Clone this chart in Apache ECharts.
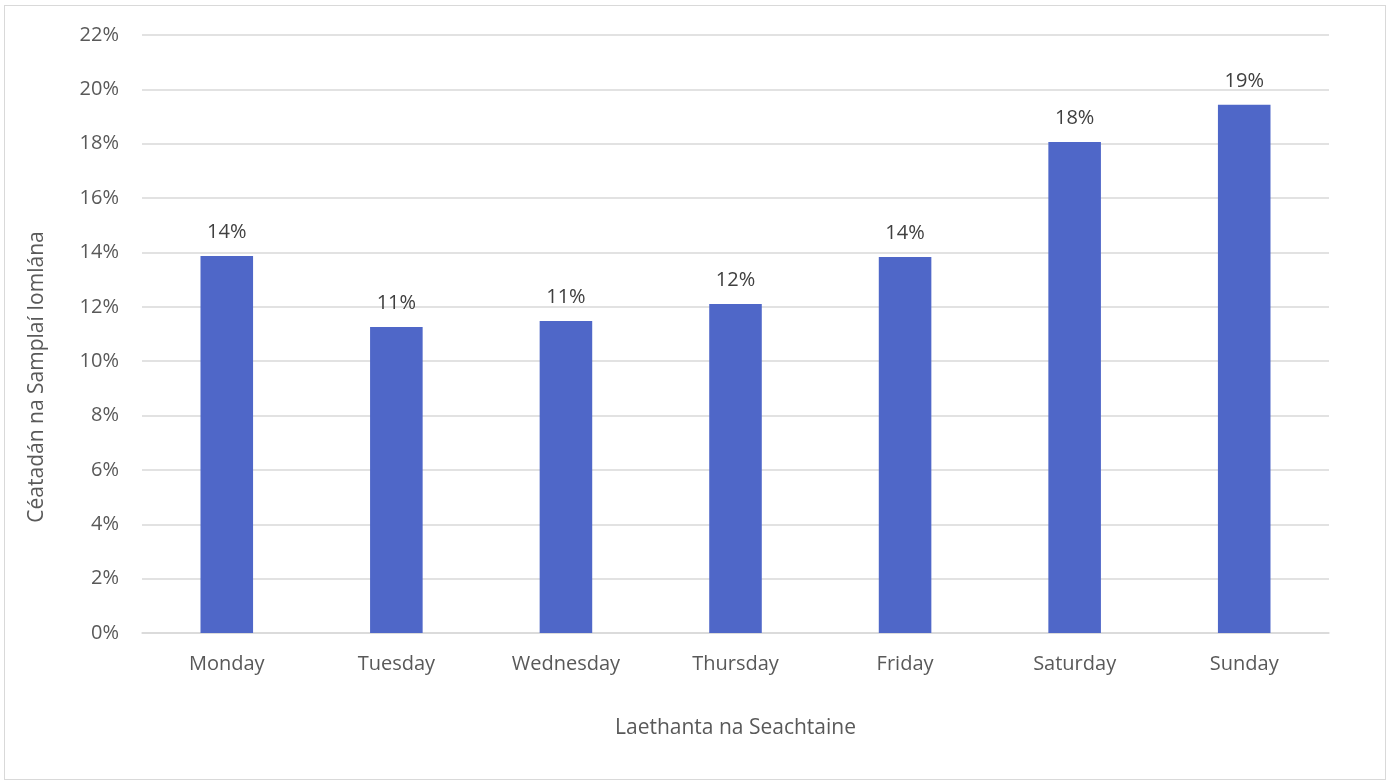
<!DOCTYPE html>
<html><head><meta charset="utf-8">
<script src="https://cdn.jsdelivr.net/npm/echarts@6/dist/echarts.min.js"></script>
<style>
html,body{margin:0;padding:0;background:#fff;}
#frame{position:absolute;left:4px;top:5px;width:1382px;height:775px;border:1px solid #d9d9d9;box-sizing:border-box;}
#c{position:absolute;left:0;top:0;width:1392px;height:783px;}
</style></head>
<body>
<div id="frame"></div>
<div id="c"></div>
<script>
const categories = ["Monday","Tuesday","Wednesday","Thursday","Friday","Saturday","Sunday"];
const values = [13.87, 11.26, 11.48, 12.10, 13.83, 18.06, 19.43];
const yTicks = [0,2,4,6,8,10,12,14,16,18,20,22];
const xAxisTitle = "Laethanta na Seachtaine";
const yAxisTitle = "Céatadán na Samplaí Iomlána";

const chart = echarts.init(document.getElementById('c'), null, {renderer:'canvas'});
const font = "'Open Sans', 'Noto Sans', sans-serif";
const fs = 20;
chart.setOption({
  animation:false,
  grid:{left:142, right:63, top:35, bottom:150, containLabel:false},
  xAxis:{
    type:'category', data:categories,
    name:xAxisTitle, nameLocation:'middle', nameGap:85,
    nameTextStyle:{color:'#595959', fontSize:21, fontFamily:font},
    axisLine:{show:true, lineStyle:{color:'#d9d9d9', width:1.5}},
    axisTick:{show:false},
    axisLabel:{color:'#595959', fontSize:fs, fontFamily:font, margin:21}
  },
  yAxis:{
    type:'value', min:yTicks[0], max:yTicks[yTicks.length-1], interval:2,
    name:yAxisTitle, nameLocation:'middle', nameGap:94, nameRotate:90,
    nameTextStyle:{color:'#595959', fontSize:21, fontFamily:font, padding:[0,86,0,0]},
    axisLine:{show:false}, axisTick:{show:false},
    splitLine:{lineStyle:{color:'#d9d9d9', width:1.5}},
    axisLabel:{color:'#595959', fontSize:fs, fontFamily:font, margin:23, formatter:v=>v+'%'}
  },
  series:[{
    type:'bar', data:values, barWidth:'31%',
    itemStyle:{color:'#4f67c8'},
    label:{show:true, position:'top', distance:14, color:'#404040', fontSize:fs, fontFamily:font,
      formatter:p=>Math.round(p.value)+'%'}
  }]
});
</script>
</body></html>
